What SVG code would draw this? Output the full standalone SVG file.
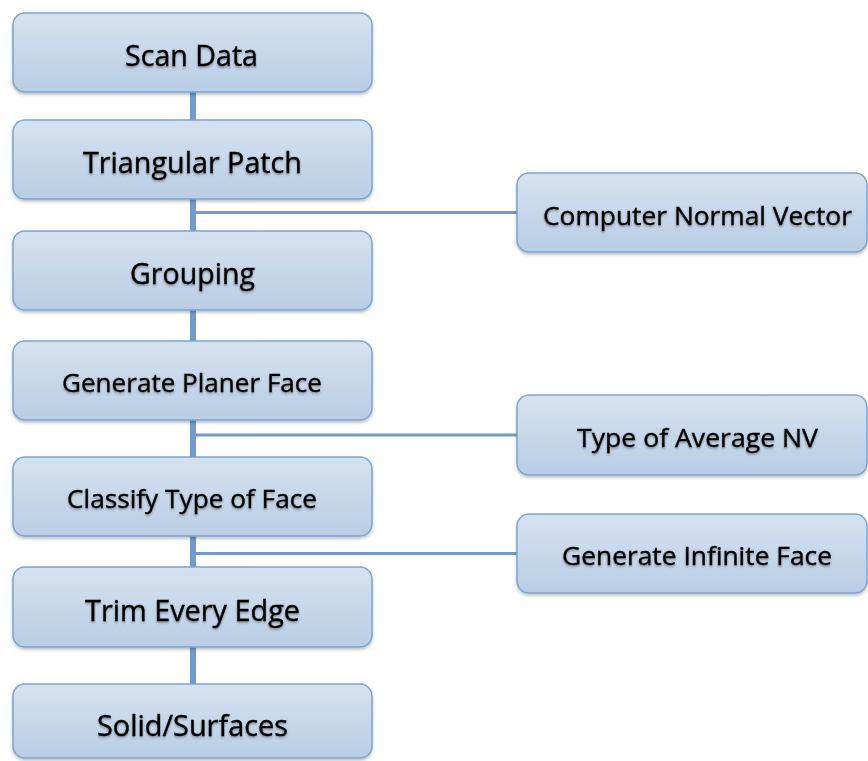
<svg xmlns="http://www.w3.org/2000/svg" width="868" height="761" viewBox="0 0 868 761">
  <defs>
    <linearGradient id="boxFill" x1="0" y1="0" x2="0" y2="1">
      <stop offset="0" stop-color="#d6e2f0"/>
      <stop offset="1" stop-color="#b9cde5"/>
    </linearGradient>
    <filter id="shadow" x="-5%" y="-10%" width="110%" height="130%">
      <feDropShadow dx="0" dy="2" stdDeviation="1.5" flood-color="#000" flood-opacity="0.25"/>
    </filter>
    <filter id="tshadow" x="-5%" y="-20%" width="110%" height="150%">
      <feDropShadow dx="0" dy="1.5" stdDeviation="1.2" flood-color="#000" flood-opacity="0.35"/>
    </filter>
  </defs>
  <style>
    .box { fill: url(#boxFill); stroke: #7ea4d0; stroke-width: 1.5; filter: url(#shadow); }
    .lbl { font-family: "Open Sans", "Liberation Sans", sans-serif; fill: #000; stroke: #000; stroke-width: 0.35; text-anchor: middle; filter: url(#tshadow); }
    .big { font-size: 28.5px; }
    .small { font-size: 26px; }
    .vline { stroke: #729acb; stroke-width: 6; fill: none; }
    .hline { stroke: #729acb; stroke-width: 3; fill: none; }
  </style>
  <rect width="868" height="761" fill="#fff"/>
  <g id="connectors">
    <line class="vline" x1="193" y1="92" x2="193" y2="120"/>
    <line class="vline" x1="193" y1="199" x2="193" y2="231"/>
    <line class="vline" x1="193" y1="310" x2="193" y2="341"/>
    <line class="vline" x1="193" y1="420" x2="193" y2="457"/>
    <line class="vline" x1="193" y1="536" x2="193" y2="567"/>
    <line class="vline" x1="193" y1="647" x2="193" y2="684"/>
    <line class="hline" x1="193" y1="212.5" x2="517" y2="212.5"/>
    <line class="hline" x1="193" y1="435" x2="517" y2="435"/>
    <line class="hline" x1="193" y1="553.5" x2="517" y2="553.5"/>
  </g>
  <g id="scan-data">
    <rect class="box" x="13" y="13" width="359" height="79" rx="12"/>
    <text class="lbl big" x="191.5" y="66" textLength="133" lengthAdjust="spacingAndGlyphs">Scan Data</text>
  </g>
  <g id="triangular-patch">
    <rect class="box" x="13" y="120" width="359" height="79" rx="12"/>
    <text class="lbl big" x="192.5" y="173" textLength="219" lengthAdjust="spacingAndGlyphs">Triangular Patch</text>
  </g>
  <g id="grouping">
    <rect class="box" x="13" y="231" width="359" height="79" rx="12"/>
    <text class="lbl big" x="192.5" y="284" textLength="125" lengthAdjust="spacingAndGlyphs">Grouping</text>
  </g>
  <g id="generate-planer-face">
    <rect class="box" x="13" y="341" width="359" height="79" rx="12"/>
    <text class="lbl small" x="192" y="392" textLength="260" lengthAdjust="spacingAndGlyphs">Generate Planer Face</text>
  </g>
  <g id="classify-type-of-face">
    <rect class="box" x="13" y="457" width="359" height="79" rx="12"/>
    <text class="lbl small" x="192" y="508" textLength="250" lengthAdjust="spacingAndGlyphs">Classify Type of Face</text>
  </g>
  <g id="trim-every-edge">
    <rect class="box" x="13" y="567" width="359" height="80" rx="12"/>
    <text class="lbl big" x="192.5" y="621" textLength="215" lengthAdjust="spacingAndGlyphs">Trim Every Edge</text>
  </g>
  <g id="solid-surfaces">
    <rect class="box" x="13" y="684" width="359" height="74" rx="12"/>
    <text class="lbl big" x="192.5" y="736" textLength="191" lengthAdjust="spacingAndGlyphs">Solid/Surfaces</text>
  </g>
  <g id="computer-normal-vector">
    <rect class="box" x="517" y="173" width="350" height="79" rx="12"/>
    <text class="lbl small" x="697.5" y="225" textLength="309" lengthAdjust="spacingAndGlyphs">Computer Normal Vector</text>
  </g>
  <g id="type-of-average-nv">
    <rect class="box" x="517" y="395" width="350" height="80" rx="12"/>
    <text class="lbl small" x="697.5" y="447" textLength="241" lengthAdjust="spacingAndGlyphs">Type of Average NV</text>
  </g>
  <g id="generate-infinite-face">
    <rect class="box" x="517" y="514" width="350" height="79" rx="12"/>
    <text class="lbl small" x="697" y="565" textLength="270" lengthAdjust="spacingAndGlyphs">Generate Infinite Face</text>
  </g>
</svg>
